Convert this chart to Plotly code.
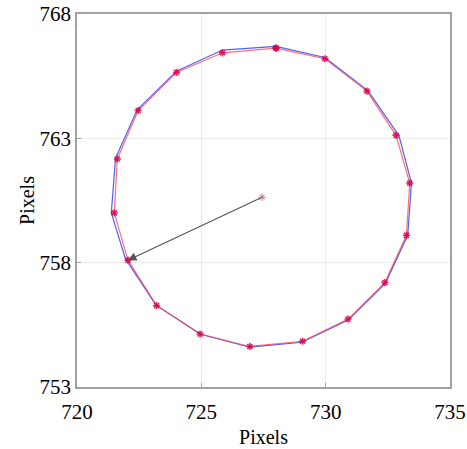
import plotly.graph_objects as go

# Measured edge points (red)
edge_x = [728.0, 729.97, 731.66, 732.83, 733.38, 733.25, 732.38, 730.9, 729.07, 726.95,
          724.95, 723.2, 722.05, 721.5, 721.62, 722.46, 724.0, 725.85, 728.0]
edge_y = [766.63, 766.2, 764.9, 763.12, 761.2, 759.1, 757.2, 755.73, 754.84, 754.63,
          755.13, 756.27, 758.1, 760.0, 762.17, 764.12, 765.65, 766.44, 766.63]

# Fitted contour (blue)
fit_x = [728.0, 729.97, 731.7, 732.95, 733.45, 733.3, 732.4, 730.92, 729.05, 726.95,
         724.97, 723.17, 721.95, 721.38, 721.55, 722.42, 724.0, 725.85, 728.0]
fit_y = [766.7, 766.25, 764.92, 763.1, 761.2, 759.1, 757.17, 755.7, 754.8, 754.6,
         755.12, 756.3, 758.15, 760.0, 762.2, 764.15, 765.7, 766.55, 766.7]

# Centre and arrow target
center_x, center_y = 727.44, 760.63
target_x, target_y = 722.05, 758.1

x_ticks = [720, 725, 730, 735]
y_ticks = [753, 758, 763, 768]

fig = go.Figure()
fig.add_trace(go.Scatter(x=fit_x, y=fit_y, mode="lines",
                         line=dict(color="rgba(50,70,240,0.85)", width=1.2), showlegend=False))
fig.add_trace(go.Scatter(x=edge_x, y=edge_y, mode="lines+markers",
                         line=dict(color="rgba(255,50,60,0.7)", width=1.2),
                         marker=dict(symbol="asterisk-open", size=6, color="rgba(215,0,70,0.85)",
                                     line=dict(color="rgba(215,0,70,0.85)", width=1.5)),
                         showlegend=False))
fig.add_trace(go.Scatter(x=[center_x], y=[center_y], mode="markers",
                         marker=dict(symbol="asterisk-open", size=6, color="rgba(190,80,100,0.8)",
                                     line=dict(color="rgba(190,80,100,0.8)", width=1)),
                         showlegend=False))
fig.add_annotation(x=target_x, y=target_y, ax=center_x, ay=center_y,
                   xref="x", yref="y", axref="x", ayref="y",
                   showarrow=True, arrowhead=2, arrowsize=1.4, arrowwidth=1.2,
                   arrowcolor="#555555", text="")

font = "Liberation Serif, Times New Roman, serif"
axis_common = dict(showgrid=True, gridcolor="#ececec", gridwidth=1, automargin=False,
                   showline=True, linecolor="#a0a0a0", linewidth=1.5, mirror=True,
                   ticks="inside", ticklen=4, tickcolor="#a0a0a0",
                   zeroline=False, tickfont=dict(family=font, size=21, color="#000"))
fig.update_xaxes(range=[720, 735], tickvals=x_ticks, ticktext=[str(v) for v in x_ticks],
                 ticklabelstandoff=5,
                 title=dict(text="Pixels", font=dict(family=font, size=20, color="#000"), standoff=7),
                 **axis_common)
fig.update_yaxes(range=[753, 768], tickvals=y_ticks, ticktext=[str(v) for v in y_ticks],
                 title=dict(text="Pixels", font=dict(family=font, size=20, color="#000"), standoff=0),
                 **axis_common)
fig.update_layout(width=467, height=449, margin=dict(l=77, r=17, t=14, b=62),
                  plot_bgcolor="white", paper_bgcolor="white")
fig.write_html("out.html")
